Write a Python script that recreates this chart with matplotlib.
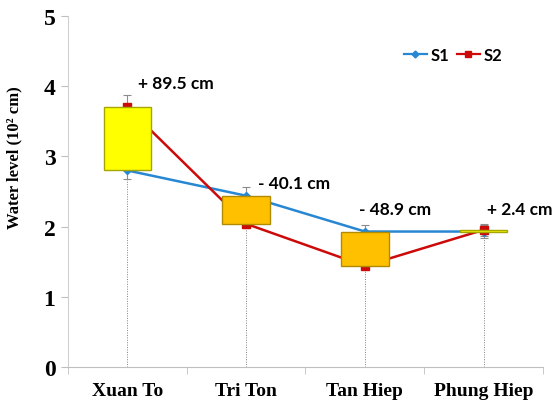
import numpy as np
import matplotlib
matplotlib.use("Agg")
import matplotlib.pyplot as plt
from matplotlib.lines import Line2D

stations = ['Xuan To', 'Tri Ton', 'Tan Hiep', 'Phung Hiep']
s1 = np.array([2.80, 2.44, 1.93, 1.93])    # water level S1 (10^2 cm)
s2 = np.array([3.70, 2.04, 1.44, 1.954])   # water level S2 (10^2 cm)
s1_err = np.array([0.12, 0.12, 0.09, 0.09])
s2_err = np.array([0.17, 0.06, 0.05, 0.09])
diff_labels = ['+ 89.5 cm', '- 40.1 cm', '- 48.9 cm', '+ 2.4 cm']

# where the change labels sit (x offset from category, y in data units)
label_dx = [0.09, 0.10, -0.05, 0.03]
label_y = [4.05, 2.62, 2.25, 2.25]

blue = '#2787d2'
red = '#cc0a0a'

fig = plt.figure(figsize=(5.56, 4.10), dpi=100)
ax = fig.add_axes([0.1223, 0.1024, 0.8543, 0.8561])
x = np.arange(len(stations))

# drop lines down to the axis
ax.vlines(x, 0, np.minimum(s1 - s1_err, s2 - s2_err), colors='#808080',
          linestyles=(0, (1, 1.5)), lw=0.7, zorder=1)

ax.errorbar(x, s1, yerr=s1_err, fmt='none', ecolor='#8c8c8c', elinewidth=0.8,
            capsize=3, capthick=0.8, zorder=2)
ax.errorbar(x, s2, yerr=s2_err, fmt='none', ecolor='#8c8c8c', elinewidth=0.8,
            capsize=3, capthick=0.8, zorder=2)

ax.plot(x, s1, color=blue, lw=1.8, marker='D', ms=4, zorder=3)
ax.plot(x, s2, color=red, lw=1.8, marker='s', ms=5.5, zorder=3)

# up/down bars between S1 and S2
up = s2 >= s1
face = np.where(up, '#ffff00', '#ffc000')
edge = np.where(up, '#a6a600', '#b08a00')
ax.bar(x, s2 - s1, bottom=s1, width=0.4, color=face, edgecolor=edge,
       linewidth=1.0, zorder=4)

for i, t in enumerate(diff_labels):
    ax.text(x[i] + label_dx[i], label_y[i], t, fontsize=12.5, fontweight='bold',
            family='Lato', ha='left', va='center', zorder=5)

ax.set_xlim(-0.5, len(stations) - 0.5)
ax.set_ylim(0, 5)
ax.set_yticks(range(6))
ax.set_xticks(x)
ax.set_xticklabels(stations, family='Liberation Serif', fontweight='bold', fontsize=14)
ax.set_xticks(np.arange(-0.5, len(stations)), minor=True)
ax.tick_params(axis='x', which='major', length=0, pad=11)
ax.tick_params(axis='x', which='minor', length=5, color='#bfbfbf', direction='out')
ax.tick_params(axis='y', length=5, color='#bfbfbf', pad=4)
for lab in ax.get_yticklabels():
    lab.set_family('Liberation Serif')
    lab.set_fontweight('bold')
    lab.set_fontsize(17)

ax.set_ylabel('Water level (10² cm)', family='Liberation Serif',
              fontweight='bold', fontsize=12)
ax.yaxis.set_label_coords(-0.097, 0.60)

for s in ['top', 'right']:
    ax.spines[s].set_visible(False)
ax.spines['left'].set_color('#d0d0d0')
ax.spines['bottom'].set_color('#bfbfbf')

handles = [Line2D([], [], color=blue, lw=1.6, marker='D', ms=3.5),
           Line2D([], [], color=red, lw=1.6, marker='s', ms=5)]
leg = ax.legend(handles, ['S1', 'S2'], loc='upper left', bbox_to_anchor=(0.675, 0.955),
                ncol=2, frameon=False, handlelength=1.4, handletextpad=0.2,
                columnspacing=0.45, prop={'family': 'Lato', 'weight': 'bold', 'size': 12})

fig.savefig('out.png', dpi=100)
